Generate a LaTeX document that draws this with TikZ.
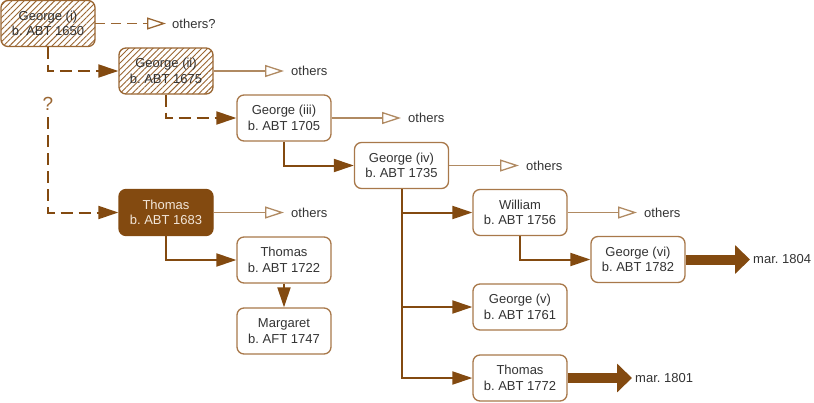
\documentclass[tikz,border=0pt]{standalone}
\usepackage{fontspec}
\setmainfont{Liberation Sans}
\usetikzlibrary{arrows.meta,patterns.meta}
\definecolor{dk}{HTML}{834A10}
\definecolor{bd}{HTML}{A8784A}
\definecolor{lt}{HTML}{B08A62}
\definecolor{tx}{HTML}{333333}
\definecolor{hc}{HTML}{9A6632}
\definecolor{lighttx}{HTML}{F2E6D9}
\frenchspacing
\begin{document}
\frenchspacing
\begin{tikzpicture}[x=1pt,y=-1pt,
  fnt/.style={font=\fontsize{13}{15.5}\selectfont\frenchspacing},
  person/.style={fnt, draw=bd, line width=1.3pt, rounded corners=7pt, fill=white,
    minimum width=94pt, minimum height=46pt, inner sep=0pt, align=center, text=tx},
  hatched/.style={person, draw=hc, fill=none, preaction={fill=white},
    pattern={Lines[angle=45,distance=4.3pt,line width=0.9pt]}, pattern color=hc},
  darkbox/.style={person, fill=dk, draw=dk, text=lighttx},
  conn/.style={draw=dk, line width=2pt, -{Triangle[length=20pt,width=13pt]}},
  dconn/.style={conn, dash pattern=on 12pt off 6pt},
  oth/.style={draw=lt, line width=1.3pt, -{Triangle[open,length=19pt,width=12pt,fill=white]}},
  doth/.style={oth, draw=hc, dash pattern=on 10pt off 6pt},
  thickarrow/.style={draw=dk, line width=10pt, -{Triangle[length=15pt,width=28pt]}},
  lab/.style={fnt, anchor=west, inner sep=0pt, text=tx}]
\useasboundingbox (0,0) rectangle (814,402);

% people
\node[hatched] (g1) at (48,23.5) {George (i)\\b. ABT 1650};
\node[hatched] (g2) at (166,71) {George (ii)\\b. ABT 1675};
\node[person] (g3) at (284,118) {George (iii)\\b. ABT 1705};
\node[person] (g4) at (401.5,165.5) {George (iv)\\b. ABT 1735};
\node[darkbox] (t1) at (166,212.5) {Thomas\\b. ABT 1683};
\node[person] (t2) at (284,260) {Thomas\\b. ABT 1722};
\node[person] (m) at (284,331) {Margaret\\b. AFT 1747};
\node[person] (w) at (520,212.5) {William\\b. ABT 1756};
\node[person] (g6) at (638,259.5) {George (vi)\\b. ABT 1782};
\node[person] (g5) at (520,307) {George (v)\\b. ABT 1761};
\node[person] (t3) at (520,378) {Thomas\\b. ABT 1772};

% others labels
\node[lab] (o1) at (172,23.5) {others?};
\node[lab] (o2) at (291,71) {others};
\node[lab] (o3) at (408,118) {others};
\node[lab] (o4) at (526,165.5) {others};
\node[lab] (o5) at (291,212.5) {others};
\node[lab] (o6) at (644,212.5) {others};
\node[lab] (mar1) at (753,259.5) {mar. 1804};
\node[lab] (mar2) at (635,378) {mar. 1801};

% question mark
\coordinate (q) at (48,117);
\node[font=\fontsize{19}{20}\selectfont, text=hc, inner sep=0pt] (qm) at (48,104) {?};

% main connectors
\draw[dconn] (g1.south) |- (g2.west);
\draw[dconn] (q) |- (t1.west);
\draw[dconn] (g2.south) |- (g3.west);
\draw[conn] (g3.south) |- (g4.west);
\draw[conn] (g4.south) |- (w.west);
\draw[conn] (g4.south) |- (g5.west);
\draw[conn] (g4.south) |- (t3.west);
\draw[conn] (t1.south) |- (t2.west);
\draw[conn] (t2.south) -- (m.north);
\draw[conn] (w.south) |- (g6.west);

% others connectors
\draw[doth] (g1.east) -- ([xshift=-6pt]o1.west);
\draw[oth] (g2.east) -- ([xshift=-7pt]o2.west);
\draw[oth] (g3.east) -- ([xshift=-7pt]o3.west);
\draw[oth] (g4.east) -- ([xshift=-7pt]o4.west);
\draw[oth] (t1.east) -- ([xshift=-7pt]o5.west);
\draw[oth] (w.east) -- ([xshift=-7pt]o6.west);

% marriage arrows
\draw[thickarrow] (g6.east) -- ([xshift=-3pt]mar1.west);
\draw[thickarrow] (t3.east) -- ([xshift=-3pt]mar2.west);
\end{tikzpicture}
\end{document}
